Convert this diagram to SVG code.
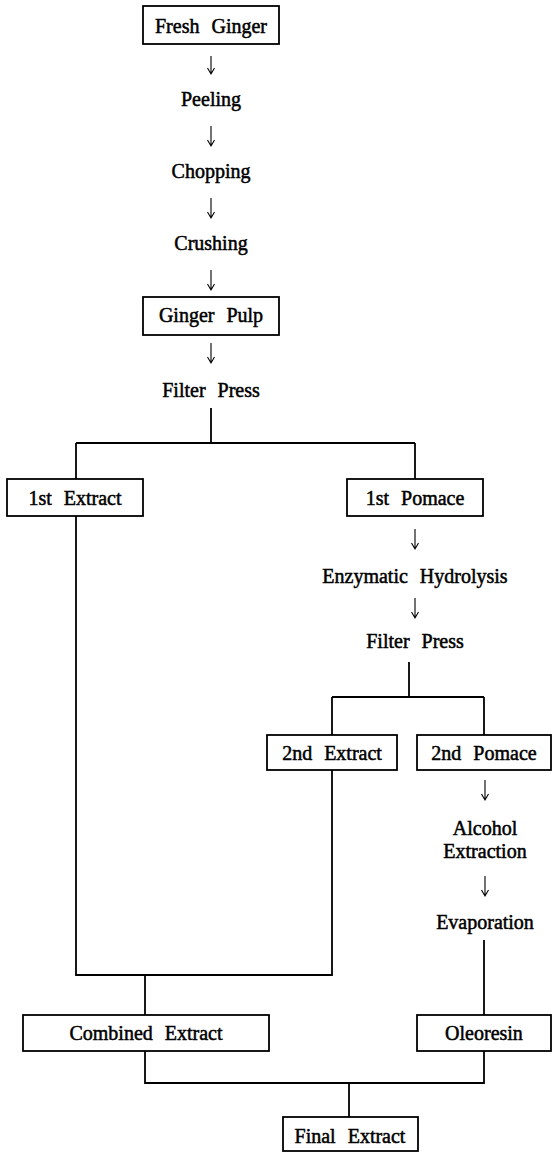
<svg xmlns="http://www.w3.org/2000/svg" width="552" height="1152" viewBox="0 0 552 1152">
<defs>
<style>
.box{fill:#fff;stroke:#000;stroke-width:1.8}
.ln{fill:none;stroke:#000;stroke-width:1.8}
.ar{fill:none;stroke:#000;stroke-width:1.1}
</style>
</defs>
<rect width="552" height="1152" fill="#fff"/>
<g id="connectors">
<path class="ln" d="M211,408 V443 M76,443 H415 M76,443 V479 M415,443 V479"/>
<path class="ln" d="M409,662 V697 M332,697 H484 M332,697 V735 M484,697 V735"/>
<path class="ln" d="M76,516 V975 H332 V770 M145,975 V1015"/>
<path class="ln" d="M484,940 V1015"/>
<path class="ln" d="M145,1051 V1083 H484 V1051 M349,1083 V1117"/>
<path class="ar" d="M211,56 V74 M207.5,68 L211,74 L214.5,68"/>
<path class="ar" d="M211,126 V146 M207.5,140 L211,146 L214.5,140"/>
<path class="ar" d="M211,198 V218 M207.5,212 L211,218 L214.5,212"/>
<path class="ar" d="M211,270 V290 M207.5,284 L211,290 L214.5,284"/>
<path class="ar" d="M211,343 V363 M207.5,357 L211,363 L214.5,357"/>
<path class="ar" d="M415,529 V549 M411.5,543 L415,549 L418.5,543"/>
<path class="ar" d="M415,598 V618 M411.5,612 L415,618 L418.5,612"/>
<path class="ar" d="M485,780 V800 M481.5,794 L485,800 L488.5,794"/>
<path class="ar" d="M485,876 V896 M481.5,890 L485,896 L488.5,890"/>
</g>
<g font-family="Liberation Serif, Times New Roman, serif" font-size="20" fill="#000" stroke="#000" stroke-width="0.5" text-anchor="middle" word-spacing="7">
<g id="fresh-ginger"><rect class="box" x="143" y="6" width="136" height="38"/><text x="211" y="33">Fresh Ginger</text></g>
<g id="peeling"><text x="211" y="106">Peeling</text></g>
<g id="chopping"><text x="211" y="178">Chopping</text></g>
<g id="crushing"><text x="211" y="250">Crushing</text></g>
<g id="ginger-pulp"><rect class="box" x="143" y="297" width="136" height="38"/><text x="211" y="322">Ginger Pulp</text></g>
<g id="filter-press-1"><text x="211" y="397">Filter Press</text></g>
<g id="first-extract"><rect class="box" x="7" y="479" width="136" height="37"/><text x="75" y="505">1st Extract</text></g>
<g id="first-pomace"><rect class="box" x="347" y="479" width="136" height="37"/><text x="415" y="505">1st Pomace</text></g>
<g id="enzymatic"><text x="415" y="583">Enzymatic Hydrolysis</text></g>
<g id="filter-press-2"><text x="415" y="648">Filter Press</text></g>
<g id="second-extract"><rect class="box" x="267" y="735" width="130" height="35"/><text x="332" y="760">2nd Extract</text></g>
<g id="second-pomace"><rect class="box" x="417" y="735" width="134" height="35"/><text x="484" y="760">2nd Pomace</text></g>
<g id="alcohol-extraction"><text x="485" y="835">Alcohol</text><text x="485" y="858">Extraction</text></g>
<g id="evaporation"><text x="485" y="929">Evaporation</text></g>
<g id="combined-extract"><rect class="box" x="23" y="1015" width="246" height="36"/><text x="146" y="1040">Combined Extract</text></g>
<g id="oleoresin"><rect class="box" x="417" y="1015" width="134" height="36"/><text x="484" y="1040">Oleoresin</text></g>
<g id="final-extract"><rect class="box" x="283" y="1117" width="135" height="34"/><text x="350" y="1143">Final Extract</text></g>
</g>
</svg>
